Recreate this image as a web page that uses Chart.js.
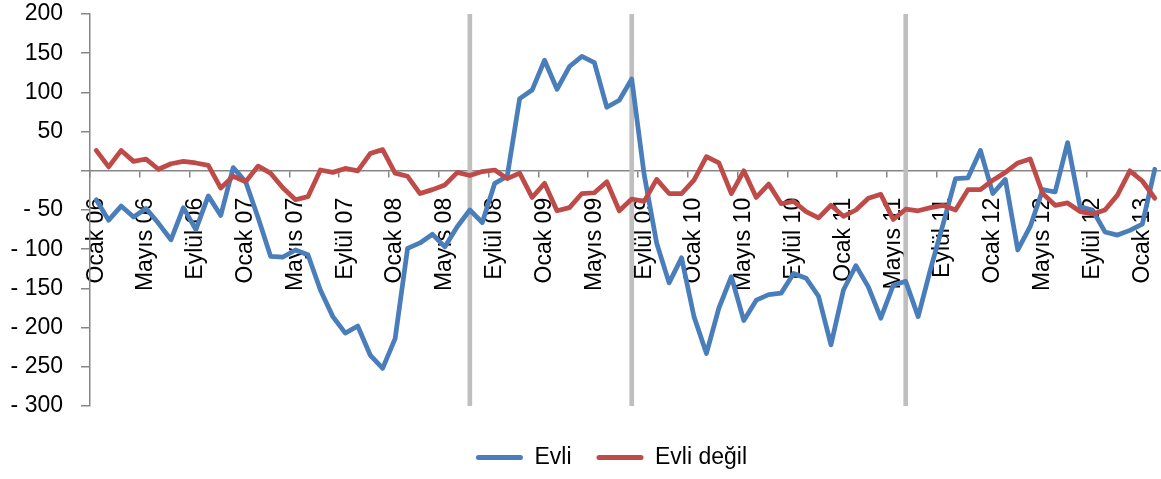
<!DOCTYPE html>
<html>
<head>
<meta charset="utf-8">
<script src="https://cdn.jsdelivr.net/npm/chart.js@4/dist/chart.umd.min.js"></script>
<style>
  body { margin: 0; background: #fff; }
  canvas { display: block; }
</style>
</head>
<body>
<canvas id="chart" width="1161" height="479"></canvas>
<script>
// Categories: Ocak 06 .. Şubat 13
const months = ['Ocak', 'Şubat', 'Mart', 'Nisan', 'Mayıs', 'Haziran', 'Temmuz', 'Ağustos', 'Eylül', 'Ekim', 'Kasım', 'Aralık'];
const years = ['06', '07', '08', '09', '10', '11', '12', '13'];
const pointCount = 86;

// Series values
const evli = [
    -37, -63, -45, -59, -48, -67, -88, -47, -75, -32, -57, 4,
    -14, -60, -109, -110, -101, -107, -152, -186, -207, -198, -235, -252,
    -214, -99, -92, -81, -97, -71, -50, -66, -16, -7, 92, 103,
    141, 104, 133, 146, 138, 81, 90, 117, -5, -92, -143, -111,
    -186, -233, -175, -135, -191, -165, -158, -156, -131, -137, -160, -222,
    -152, -121, -148, -188, -146, -141, -186, -125, -68, -10, -9, 26,
    -29, -11, -101, -71, -24, -27, 36, -46, -50, -78, -82, -76,
    -68, 2
];
const evliDegil = [
    26, 5, 26, 12, 15, 2, 9, 12, 10, 7, -22, -7,
    -14, 6, -3, -22, -37, -33, 1, -2, 3, 0, 22, 27,
    -3, -7, -29, -24, -18, -2, -6, -1, 1, -10, -3, -34,
    -16, -51, -47, -29, -28, -14, -51, -36, -39, -11, -29, -29,
    -12, 18, 10, -29, 0, -34, -17, -42, -39, -52, -60, -44,
    -58, -50, -35, -30, -62, -49, -51, -47, -44, -50, -24, -24,
    -12, -2, 10, 15, -29, -44, -41, -52, -55, -50, -31, 0,
    -13, -35
];

// Grey vertical marker lines (category index) and the span they cover
const markerIdx = [30, 43, 65];
const markerSpan = [-300, 200];

// Value axis
const yMin = -300;
const yMax = 200;
const yStep = 50;

const labels = [];
years.forEach(yr => {
    months.forEach(m => {
        if (labels.length < pointCount) labels.push(`${m} ${yr}`);
    });
});
const markerData = labels.map((_, i) => markerIdx.includes(i) ? markerSpan : null);

Chart.defaults.font.family = "'Liberation Sans', Arial, sans-serif";
Chart.defaults.font.size = 23;
Chart.defaults.color = '#000';

const axisGrey = '#868686';

// legend in the reference is centred a bit right of the canvas centre
const legendShift = {
    id: 'legendShift',
    afterLayout(chart) {
        if (chart.legend) chart.legend.left += 62;
    }
};

new Chart(document.getElementById('chart'), {
    type: 'line',
    data: {
        labels: labels,
        datasets: [{
            label: 'Evli',
            data: evli,
            borderColor: '#4a7ebb',
            backgroundColor: '#4a7ebb',
            borderWidth: 4.75,
            pointRadius: 0,
            tension: 0,
            borderJoinStyle: 'round',
            borderCapStyle: 'round',
            order: 2
        }, {
            label: 'Evli değil',
            data: evliDegil,
            borderColor: '#be4b48',
            backgroundColor: '#be4b48',
            borderWidth: 4.75,
            pointRadius: 0,
            tension: 0,
            borderJoinStyle: 'round',
            borderCapStyle: 'round',
            order: 1
        }, {
            type: 'bar',
            label: 'markers',
            data: markerData,
            backgroundColor: '#bfbfbf',
            borderWidth: 0,
            barThickness: 4,
            order: 3
        }]
    },
    options: {
        responsive: false,
        animation: false,
        devicePixelRatio: 1,
        layout: { padding: { left: 0, top: 14, right: 0, bottom: 0 } },
        scales: {
            x: {
                type: 'category',
                position: { y: 0 },
                offset: true,
                border: { display: true, color: axisGrey, width: 1.5 },
                grid: {
                    display: true,
                    offset: true,
                    drawOnChartArea: false,
                    drawTicks: true,
                    tickLength: 6,
                    lineWidth: 1.5,
                    color: ctx => ctx.index % 4 === 0 ? axisGrey : 'rgba(0,0,0,0)'
                },
                ticks: {
                    autoSkip: false,
                    minRotation: 90,
                    maxRotation: 90,
                    padding: 21,
                    callback: function (value, index) {
                        return index % 4 === 0 ? this.getLabelForValue(value) : '';
                    }
                },
                afterFit: scale => {
                    scale.paddingLeft = 0;
                    scale.paddingRight = 0;
                }
            },
            y: {
                min: yMin,
                max: yMax,
                border: { display: true, color: axisGrey, width: 1.5 },
                grid: {
                    display: true,
                    drawOnChartArea: false,
                    drawTicks: true,
                    tickLength: 9,
                    lineWidth: 1.5,
                    color: axisGrey
                },
                ticks: {
                    stepSize: yStep,
                    padding: 18,
                    callback: v => v === 0 ? '' : (v < 0 ? '- ' + (-v) : String(v))
                },
                afterFit: scale => {
                    scale.width = 90;
                    scale.paddingTop = 0;
                    scale.paddingBottom = 0;
                }
            }
        },
        plugins: {
            tooltip: { enabled: false },
            legend: {
                position: 'bottom',
                title: { display: true, text: '', font: { size: 1, lineHeight: 1 }, padding: { top: 14, bottom: 0 } },
                labels: {
                    boxWidth: 47,
                    boxHeight: 5,
                    padding: 25,
                    color: '#000',
                    filter: item => item.text !== 'markers',
                    sort: (a, b) => a.datasetIndex - b.datasetIndex,
                    generateLabels: chart => {
                        const items = Chart.defaults.plugins.legend.labels.generateLabels(chart);
                        return items.map(it => Object.assign(it, {
                            fillStyle: it.strokeStyle,
                            lineWidth: 0,
                            borderRadius: 2.5
                        }));
                    }
                }
            }
        }
    },
    plugins: [legendShift]
});
</script>
</body>
</html>
